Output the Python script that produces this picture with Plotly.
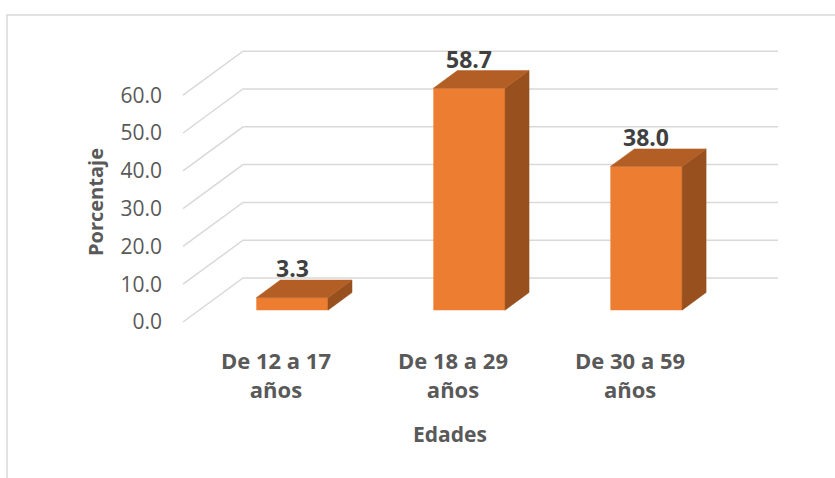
import plotly.graph_objects as go

# ---- data ----
categories = ["De 12 a 17<br>años", "De 18 a 29<br>años", "De 30 a 59<br>años"]
values = [3.3, 58.7, 38.0]
label_text = ["3.3", "58.7", "38.0"]
y_ticks = [0, 10, 20, 30, 40, 50, 60]
y_tick_text = ["0.0", "10.0", "20.0", "30.0", "40.0", "50.0", "60.0"]
x_title = "Edades"
y_title = "Porcentaje"

# ---- frame ----
W, H = 835, 478
P_LEFT, P_RIGHT, P_TOP, P_BOT = 163, 800, 40, 340   # plot area in px
ML, MR = P_LEFT, W - P_RIGHT
MT, MB = P_TOP, H - P_BOT
PW, PH = P_RIGHT - P_LEFT, P_BOT - P_TOP
XR = [-0.638, 2.960]
YR = [-4.76, 74.6]

# ---- 3D-look geometry (in data units) ----
DX, DY = 0.339, 11.64          # depth vector (front -> back wall)
F1, F2 = 0.27, 0.67            # bar front / back depth fraction
BW = 0.405                     # bar width
XL_FRONT = -0.525              # left edge of side wall (front)
XR_BACK = 2.836                # right edge of back wall

FRONT = "#ED7D31"
TOP = "#B35E24"
SIDE = "#97501E"
GRID = "#D9D9D9"

fig = go.Figure()

ddx, ddy = (F2 - F1) * DX, (F2 - F1) * DY
for i, v in enumerate(values):
    xc = i + F1 * DX
    xl, xr = xc - BW / 2, xc + BW / 2
    base = F1 * DY
    top = v + base
    # side face
    fig.add_trace(go.Scatter(
        x=[xr, xr, xr + ddx, xr + ddx, xr],
        y=[base, top, top + ddy, base + ddy, base],
        fill="toself", fillcolor=SIDE, mode="lines",
        line=dict(color=SIDE, width=0.5), hoverinfo="skip", showlegend=False))
    # top face
    fig.add_trace(go.Scatter(
        x=[xl, xr, xr + ddx, xl + ddx, xl],
        y=[top, top, top + ddy, top + ddy, top],
        fill="toself", fillcolor=TOP, mode="lines",
        line=dict(color=TOP, width=0.5), hoverinfo="skip", showlegend=False))

# front faces
fig.add_trace(go.Bar(
    x=[i + F1 * DX for i in range(len(values))],
    y=values, base=[F1 * DY] * len(values), width=BW,
    marker=dict(color=FRONT, line=dict(width=0)), showlegend=False,
    hoverinfo="skip"))

# gridlines: side wall diagonal + back wall horizontal (below everything)
shapes = []
for v in y_ticks:
    shapes.append(dict(
        type="path", xref="x", yref="y", layer="below",
        path=f"M {XL_FRONT},{v} L {XL_FRONT + DX},{v + DY} L {XR_BACK},{v + DY}",
        line=dict(color=GRID, width=1.5)))


def px_x(px):
    return (px - P_LEFT) / PW


def px_y(py):
    return (P_BOT - py) / PH


shapes.append(dict(type="rect", xref="paper", yref="paper",
                   x0=px_x(7), x1=px_x(850), y0=px_y(15), y1=px_y(500),
                   line=dict(color=GRID, width=1.5)))

annotations = [
    dict(x=i + F1 * DX, y=v + F2 * DY, xref="x", yref="y", text=f"<b>{t}</b>",
         showarrow=False, xanchor="center", yanchor="bottom", yshift=-6,
         font=dict(family="Open Sans", size=23, color="#404040"))
    for i, (v, t) in enumerate(zip(values, label_text))
]
annotations += [
    dict(text=f"<b>{y_title}</b>", xref="paper", yref="paper",
         x=px_x(95), y=px_y(202), textangle=-90, showarrow=False,
         xanchor="center", yanchor="middle",
         font=dict(size=20, color="#595959")),
    dict(text=f"<b>{x_title}</b>", xref="paper", yref="paper",
         x=px_x(450), y=px_y(434), showarrow=False,
         xanchor="center", yanchor="middle",
         font=dict(size=21, color="#595959")),
]

fig.update_layout(
    width=W, height=H,
    margin=dict(l=ML, r=MR, t=MT, b=MB),
    paper_bgcolor="white", plot_bgcolor="white",
    font=dict(family="Open Sans", color="#595959"),
    xaxis=dict(range=XR, tickvals=list(range(len(categories))), ticktext=categories,
               showgrid=False, zeroline=False, showline=False, ticks="",
               ticklabelstandoff=6, fixedrange=True,
               tickfont=dict(size=22, color="#595959", weight="bold")),
    yaxis=dict(range=YR, tickvals=y_ticks, ticktext=y_tick_text,
               showgrid=False, zeroline=False, showline=False, ticks="",
               fixedrange=True,
               tickfont=dict(size=21, color="#595959")),
    shapes=shapes,
    annotations=annotations,
)

fig.write_html("out.html", config={"displayModeBar": False},
               post_script="document.body.style.margin='0';document.body.style.overflow='hidden';")
